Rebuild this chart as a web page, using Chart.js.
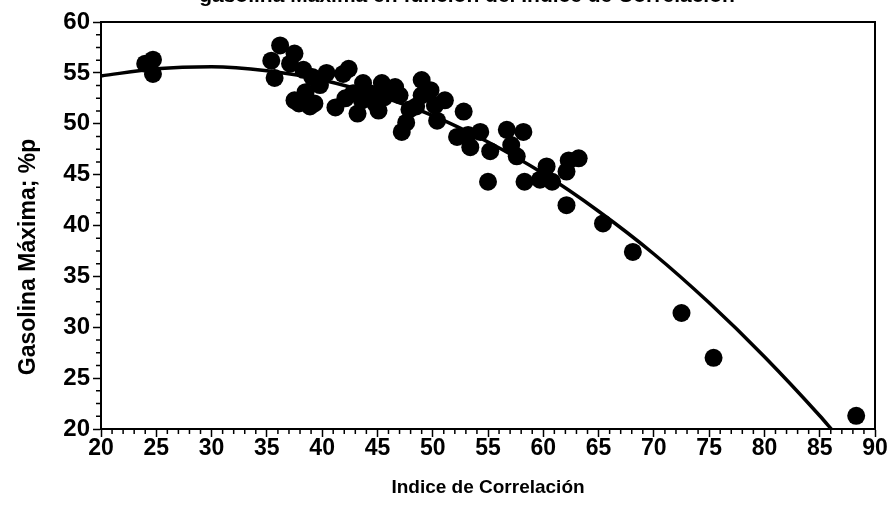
<!DOCTYPE html>
<html>
<head>
<meta charset="utf-8">
<script src="https://cdn.jsdelivr.net/npm/chart.js@4.4.1/dist/chart.umd.min.js"></script>
<style>
  html, body { margin: 0; padding: 0; background: #fff; }
</style>
</head>
<body>
<canvas id="chartGasolina" width="890" height="515"></canvas>
<script>
// Crudos: indice de correlacion vs gasolina maxima (%p)
const indiceCorrelacion = [
  24.0, 24.7, 24.7, 35.4, 35.7, 36.2, 37.1, 37.5, 37.5, 37.9,
  38.3, 38.5, 38.9, 39.1, 39.3, 39.8, 40.4, 41.2, 41.9, 42.4,
  42.1, 42.8, 43.2, 43.7, 43.6, 44.3, 44.8, 45.1, 45.4, 45.6,
  46.0, 46.6, 47.0, 47.2, 47.6, 47.9, 48.5, 49.0, 49.0, 49.8,
  50.2, 50.4, 51.1, 52.2, 52.8, 53.4, 53.2, 54.3, 55.0, 55.2,
  56.7, 57.1, 57.6, 58.2, 58.3, 59.7, 60.3, 60.8, 62.1, 62.3,
  62.1, 63.2, 65.4, 68.1, 72.5, 75.4, 88.3
];
const gasolinaMaxima = [
  55.9, 56.3, 54.9, 56.2, 54.5, 57.7, 55.9, 56.9, 52.3, 52.0,
  55.3, 53.1, 51.7, 54.6, 52.0, 53.8, 55.0, 51.6, 54.9, 55.4,
  52.5, 53.0, 51.0, 54.0, 52.3, 53.0, 52.0, 51.3, 54.0, 52.6,
  53.2, 53.6, 52.8, 49.2, 50.1, 51.4, 51.7, 54.3, 52.8, 53.3,
  51.8, 50.3, 52.3, 48.7, 51.2, 47.7, 48.9, 49.2, 44.3, 47.3,
  49.4, 47.9, 46.8, 49.2, 44.3, 44.5, 45.8, 44.3, 42.0, 46.4,
  45.3, 46.6, 40.2, 37.4, 31.4, 27.0, 21.3
];

// curva de ajuste
const ajusteIndice   = [20, 25, 30, 35, 40, 45, 50, 55, 60, 65, 70, 75, 80, 85, 86.2];
const ajusteGasolina = [54.7, 55.4, 55.6, 55.2, 54.3, 52.8, 50.8, 48.2, 45.1, 41.4, 37.2, 32.4, 27.1, 21.3, 19.8];

const titulo = 'gasolina Máxima en función del Indice de Correlación';
const tituloX = 'Indice de Correlación';
const tituloY = 'Gasolina Máxima; %p';
const rangoX = [20, 90];
const rangoY = [20, 60];

function toPoints(xs, ys) {
  let result = [];
  for (let i = 0; i < xs.length; i++) {
    result.push({x: xs[i], y: ys[i]});
  }
  return result;
}

const fuente = '"Liberation Sans", Arial, sans-serif';

// marcas menores y marco del area de trazado
const marcasMenores = {
  id: 'marcasMenores',
  afterDraw(chart) {
    const {ctx, chartArea: area} = chart;
    const x = chart.scales.x;
    const y = chart.scales.y;
    ctx.save();
    ctx.strokeStyle = '#000';
    ctx.lineWidth = 1.5;
    ctx.beginPath();
    for (let v = x.min + 1; v < x.max; v += 1) {
      if (v % 5 === 0) continue;
      const px = x.getPixelForValue(v);
      ctx.moveTo(px, area.bottom);
      ctx.lineTo(px, area.bottom + 5);
    }
    for (let v = y.min + 1.25; v < y.max; v += 1.25) {
      if (v % 5 === 0) continue;
      const py = y.getPixelForValue(v);
      ctx.moveTo(area.left, py);
      ctx.lineTo(area.left - 5, py);
    }
    ctx.stroke();
    ctx.lineWidth = 2;
    ctx.strokeRect(area.left, area.top, area.right - area.left, area.bottom - area.top);
    ctx.restore();
  }
};

// titulo cortado en el borde superior y titulo del eje Y
const textos = {
  id: 'textos',
  afterDraw(chart) {
    const ctx = chart.ctx;
    ctx.save();
    ctx.fillStyle = '#000';
    ctx.font = 'bold 21px ' + fuente;
    ctx.textAlign = 'center';
    ctx.textBaseline = 'alphabetic';
    ctx.fillText(titulo, 467, 2);

    ctx.translate(29, 257);
    ctx.rotate(-Math.PI / 2);
    ctx.font = 'bold 23px ' + fuente;
    ctx.textBaseline = 'middle';
    ctx.fillText(tituloY, 0, 0);
    ctx.restore();
  }
};

const data = {
  datasets: [{
    type: 'line',
    label: 'ajuste',
    data: toPoints(ajusteIndice, ajusteGasolina),
    borderColor: '#000',
    borderWidth: 3.5,
    pointRadius: 0,
    fill: false,
    cubicInterpolationMode: 'monotone'
  }, {
    type: 'scatter',
    label: 'crudos',
    data: toPoints(indiceCorrelacion, gasolinaMaxima),
    backgroundColor: '#000',
    borderWidth: 0,
    pointRadius: 9,
    pointHoverRadius: 9
  }]
};

const config = {
  type: 'scatter',
  data: data,
  options: {
    responsive: false,
    animation: false,
    layout: { padding: { top: 22, right: 15, left: 0, bottom: 0 } },
    plugins: {
      legend: { display: false },
      tooltip: { enabled: false }
    },
    scales: {
      x: {
        type: 'linear',
        min: rangoX[0],
        max: rangoX[1],
        ticks: {
          stepSize: 5,
          color: '#000',
          padding: -2,
          maxRotation: 0,
          font: { family: fuente, size: 23, weight: 'bold' }
        },
        grid: { drawOnChartArea: false, drawTicks: true, tickLength: 8, tickWidth: 1.5, tickColor: '#000' },
        border: { color: '#000', width: 2 },
        title: {
          display: true,
          text: tituloX,
          color: '#000',
          font: { family: fuente, size: 19, weight: 'bold' },
          padding: { top: 0, bottom: 16 }
        },
        afterFit(scale) { scale.height = 86; }
      },
      y: {
        type: 'linear',
        min: rangoY[0],
        max: rangoY[1],
        ticks: {
          stepSize: 5,
          color: '#000',
          padding: 3,
          font: { family: fuente, size: 24, weight: 'bold' }
        },
        grid: { drawOnChartArea: false, drawTicks: true, tickLength: 8, tickWidth: 1.5, tickColor: '#000' },
        border: { color: '#000', width: 2 },
        afterFit(scale) { scale.width = 101; }
      }
    }
  },
  plugins: [marcasMenores, textos]
};

const chartGasolina = new Chart(document.getElementById('chartGasolina'), config);
</script>
</body>
</html>
